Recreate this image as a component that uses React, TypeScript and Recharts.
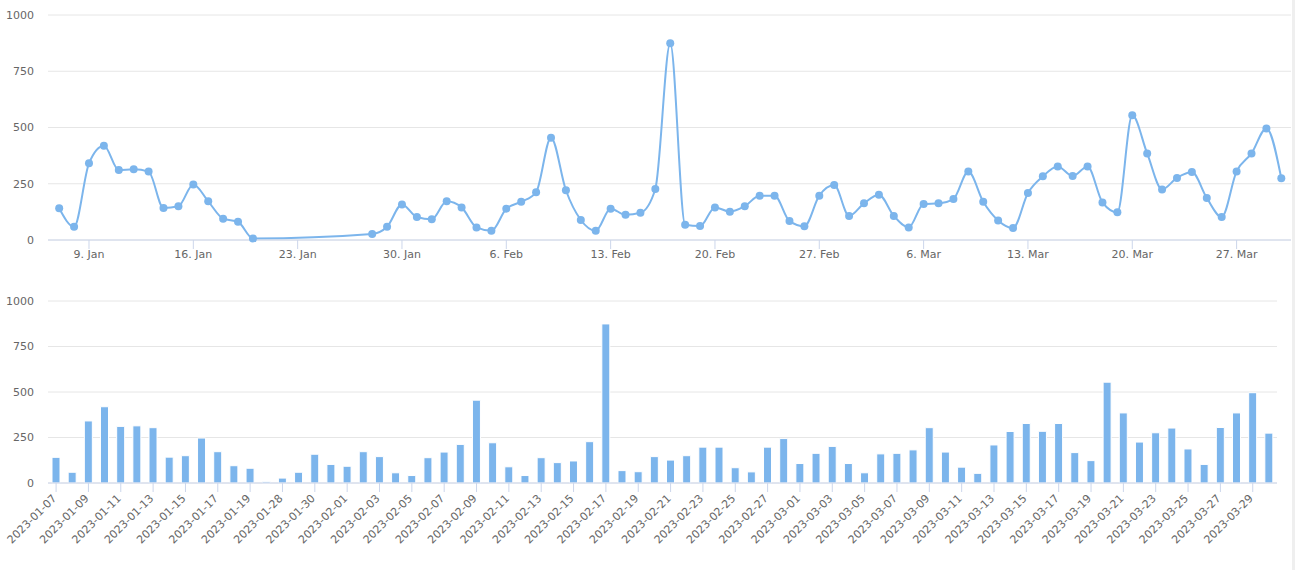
import { LineChart, Line, BarChart, Bar, XAxis, YAxis, CartesianGrid } from 'recharts'

const dates = [
  '2023-01-07', '2023-01-08', '2023-01-09', '2023-01-10', '2023-01-11', '2023-01-12', '2023-01-13',
  '2023-01-14', '2023-01-15', '2023-01-16', '2023-01-17', '2023-01-18', '2023-01-19', '2023-01-20',
  '2023-01-28', '2023-01-29', '2023-01-30', '2023-01-31',
  '2023-02-01', '2023-02-02', '2023-02-03', '2023-02-04', '2023-02-05', '2023-02-06', '2023-02-07',
  '2023-02-08', '2023-02-09', '2023-02-10', '2023-02-11', '2023-02-12', '2023-02-13', '2023-02-14',
  '2023-02-15', '2023-02-16', '2023-02-17', '2023-02-18', '2023-02-19', '2023-02-20', '2023-02-21',
  '2023-02-22', '2023-02-23', '2023-02-24', '2023-02-25', '2023-02-26', '2023-02-27', '2023-02-28',
  '2023-03-01', '2023-03-02', '2023-03-03', '2023-03-04', '2023-03-05', '2023-03-06', '2023-03-07',
  '2023-03-08', '2023-03-09', '2023-03-10', '2023-03-11', '2023-03-12', '2023-03-13', '2023-03-14',
  '2023-03-15', '2023-03-16', '2023-03-17', '2023-03-18', '2023-03-19', '2023-03-20', '2023-03-21',
  '2023-03-22', '2023-03-23', '2023-03-24', '2023-03-25', '2023-03-26', '2023-03-27', '2023-03-28',
  '2023-03-29', '2023-03-30',
]

const counts = [
  141, 59, 341, 419, 311, 314, 304, 142, 150, 247, 172, 95, 81, 7,
  27, 59, 158, 102,
  92, 172, 145, 56, 41, 139, 170, 212, 455, 221, 89, 41, 139, 112, 121, 227, 874, 68, 62, 145,
  126, 150, 197, 197, 84, 61, 197, 244,
  107, 163, 201, 107, 56, 160, 163, 182, 304, 170, 87, 53, 209, 283, 327, 284, 327, 167, 123, 554,
  385, 225, 276, 302, 187, 102, 305, 385, 496, 274,
]

const weekTicks = [
  '2023-01-09', '2023-01-16', '2023-01-23', '2023-01-30', '2023-02-06', '2023-02-13',
  '2023-02-20', '2023-02-27', '2023-03-06', '2023-03-13', '2023-03-20', '2023-03-27',
]

const yTicks = [0, 250, 500, 750, 1000]
const months = ['Jan', 'Feb', 'Mar', 'Apr']

const BLUE = '#7cb5ec'
const FONT = 'DejaVu Sans'
const tickStyle = { fill: '#666666', fontSize: 11, fontFamily: FONT }

const lineData = dates.map((d, i) => ({ t: Date.parse(d), value: counts[i] }))
const barData = dates.map((d, i) => ({ date: d, value: counts[i] }))

const fmtWeek = (t: number) => {
  const d = new Date(t)
  return `${d.getUTCDate()}. ${months[d.getUTCMonth()]}`
}

function DateTick({ x, y, payload }: any) {
  return (
    <g transform={`translate(${x + 1},${y + 6})`}>
      <text x={0} y={0} textAnchor="end" transform="rotate(-45)" {...tickStyle}>
        {payload.value}
      </text>
    </g>
  )
}

export default function App() {
  return (
    <div style={{ position: 'absolute', left: 0, top: 0, width: 1295, height: 570, background: '#fff', fontFamily: FONT }}>
      <div style={{ position: 'absolute', left: 0, top: 0 }}>
        <LineChart width={1295} height={290} data={lineData} margin={{ top: 15, right: 4, left: 0, bottom: 20 }}>
          <CartesianGrid vertical={false} stroke="#e6e6e6" />
          <XAxis
            dataKey="t"
            type="number"
            scale="time"
            domain={[Date.UTC(2023, 0, 6, 6), Date.UTC(2023, 2, 30, 15, 36)]}
            ticks={weekTicks.map(d => Date.parse(d))}
            tickFormatter={fmtWeek}
            height={30}
            stroke="#ccd6eb"
            tickSize={9}
            tickMargin={1}
            tick={tickStyle}
          />
          <YAxis
            domain={[0, 1000]}
            ticks={yTicks}
            width={48}
            axisLine={false}
            tickLine={false}
            tickSize={0}
            tickMargin={14}
            tick={tickStyle}
          />
          <Line
            type="monotone"
            dataKey="value"
            stroke={BLUE}
            strokeWidth={2}
            dot={{ r: 4, fill: BLUE, stroke: 'none' }}
            isAnimationActive={false}
          />
        </LineChart>
      </div>
      <div style={{ position: 'absolute', left: 0, top: 280 }}>
        <BarChart width={1295} height={290} data={barData} margin={{ top: 21, right: 18, left: 0, bottom: 7 }}>
          <CartesianGrid vertical={false} stroke="#e6e6e6" />
          <XAxis
            dataKey="date"
            interval={1}
            height={80}
            stroke="#ccd6eb"
            tickSize={9}
            tickMargin={1}
            tick={<DateTick />}
          />
          <YAxis
            domain={[0, 1000]}
            ticks={yTicks}
            width={48}
            axisLine={false}
            tickLine={false}
            tickSize={0}
            tickMargin={14}
            tick={tickStyle}
          />
          <Bar dataKey="value" fill={BLUE} stroke="#ffffff" strokeWidth={1} barSize={8} isAnimationActive={false} />
        </BarChart>
      </div>
      <div style={{ position: 'absolute', left: 1292, top: 0, width: 3, height: 570, background: '#efefef' }} />
    </div>
  )
}
